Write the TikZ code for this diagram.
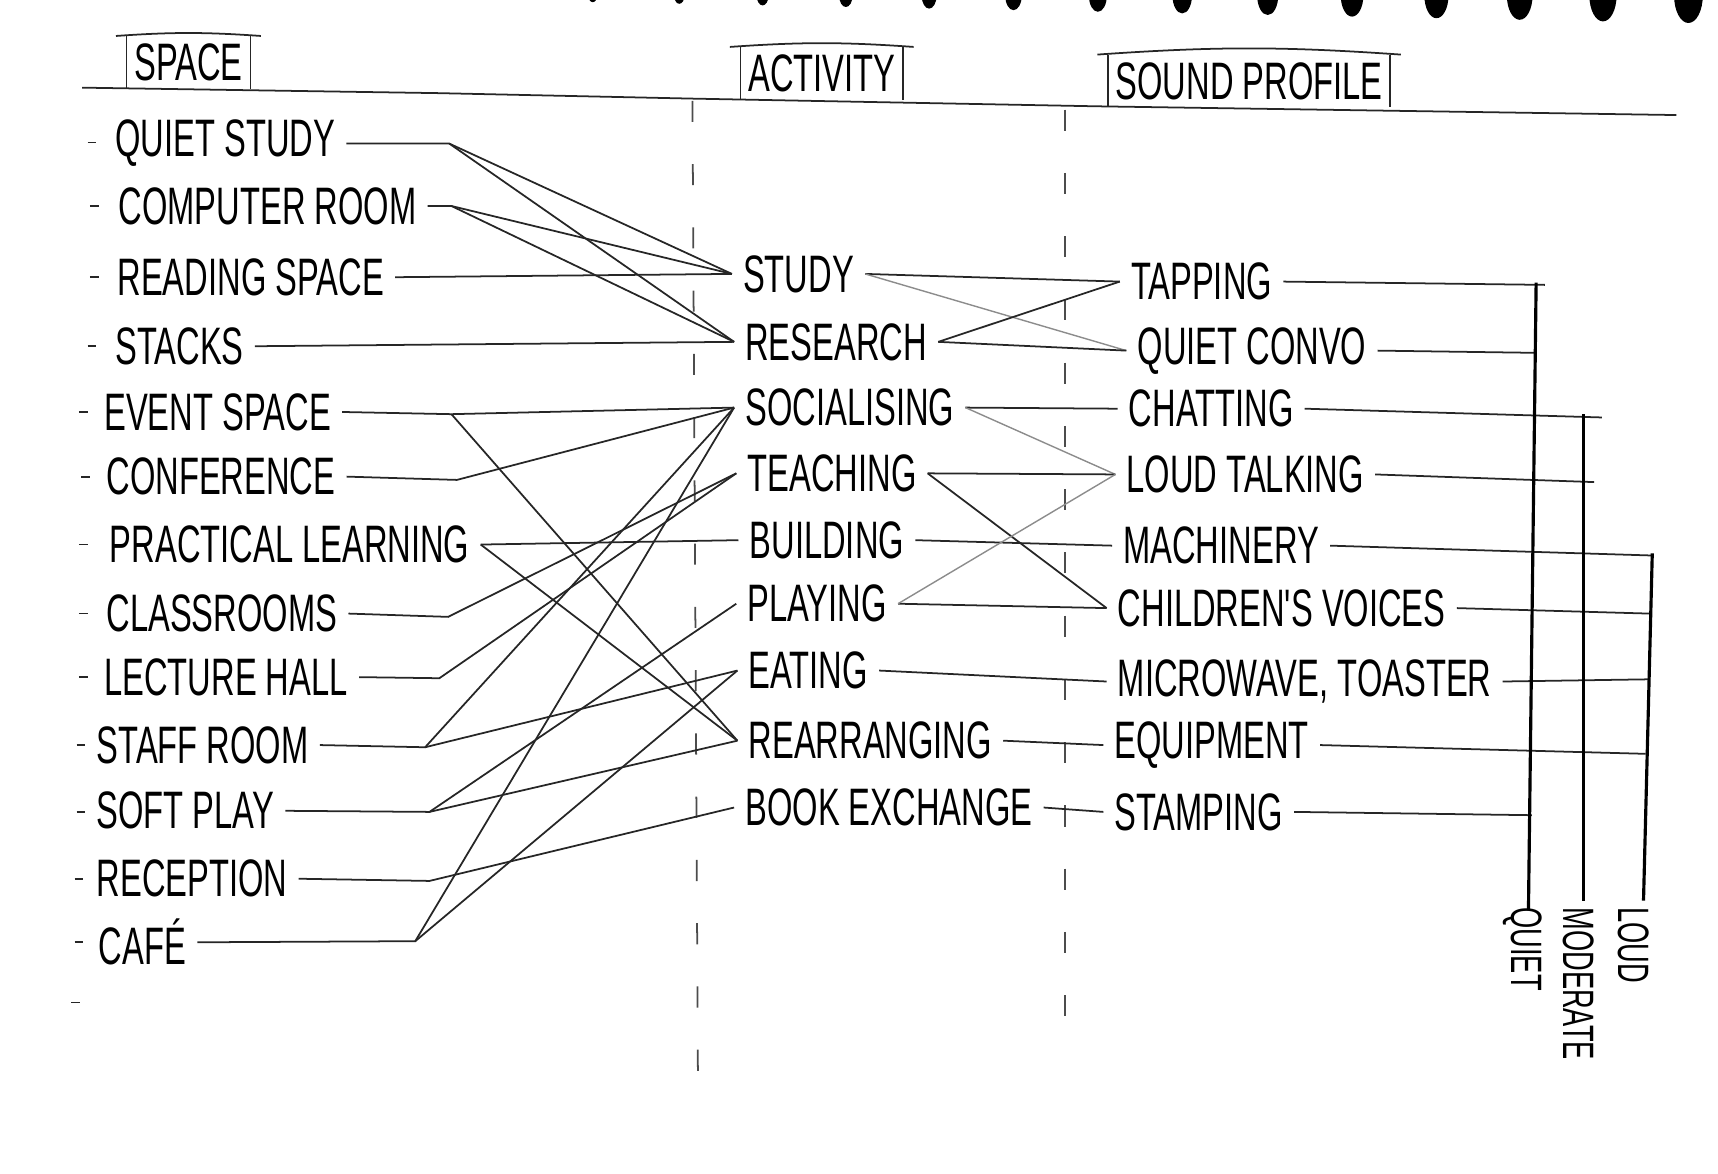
\documentclass[tikz,border=0pt]{standalone}
\usepackage{fontspec}
\newfontfamily\hand[FakeStretch=0.62]{Liberation Sans}
\begin{document}
\begin{tikzpicture}[x=0.10957mm,y=-0.10957mm,
  every node/.style={font=\hand\fontsize{15}{15}\selectfont, inner sep=3pt},
  space/.style={anchor=west},
  act/.style={anchor=west},
  snd/.style={anchor=west},
  head/.style={anchor=south, inner xsep=2pt, inner ysep=2pt},
  level/.style={anchor=west, rotate=-90, font=\hand\fontsize{12.5}{12.5}\selectfont},
  link/.style={black!85, line width=0.5pt},
  faint/.style={black!45, line width=0.4pt},
  bar/.style={black, line width=0.9pt},
  guide/.style={black!70, line width=0.5pt, dash pattern=on 6pt off 12pt}]
\useasboundingbox (0,0) rectangle (1568,1071);
\foreach \x [count=\i from 0] in {541,620,696,772,848,925,1002,1079,1157,1234,1311,1387,1463,1541}
  \fill (\x,-4) ellipse [x radius={4+0.7*\i}, y radius={6+1.46*\i}];
\draw[link] (75,80) -- (400,85) -- (632,90) -- (1000,97) -- (1530,105);
\draw[guide] (632,92) -- (637,985);
\draw[guide] (972,100) -- (972,940);
\node[head] (hsp) at (172,81) {SPACE};
\node[head] (hact) at (750,91) {ACTIVITY};
\node[head] (hsnd) at (1140,98) {SOUND PROFILE};
\foreach \h in {hsp,hact,hsnd} {
  \draw[link] ([xshift=-3pt]\h.north west) to[bend left=4] ([xshift=3pt]\h.north east);
  \draw[link] (\h.north west) -- (\h.south west);
  \draw[link] (\h.north east) -- (\h.south east);
}
\foreach \x/\y in {80/130,82/188,82/253,80/316,72/376,74/435,72/497,72/560,72/618,70/680,70/741,68/802,68/860,65/915}
  \draw[link] (\x,\y) -- ++(8,0);
\node[space] (sqs) at (95,131) {QUIET STUDY};
\node[space] (scr) at (98,188) {COMPUTER ROOM};
\node[space] (srs) at (97,253) {READING SPACE};
\node[space] (sst) at (95,316) {STACKS};
\node[space] (sev) at (85,376) {EVENT SPACE};
\node[space] (sco) at (87,435) {CONFERENCE};
\node[space] (spl) at (90,497) {PRACTICAL LEARNING};
\node[space] (scl) at (87,560) {CLASSROOMS};
\node[space] (slh) at (85,618) {LECTURE HALL};
\node[space] (ssr) at (78,680) {STAFF ROOM};
\node[space] (ssp) at (78,740) {SOFT PLAY};
\node[space] (sre) at (78,802) {RECEPTION};
\node[space] (sca) at (80,860) {CAFÉ};
\coordinate (jqs) at (410,131);
\coordinate (jcr) at (412,188);
\coordinate (jev) at (412,378);
\coordinate (jco) at (417,438);
\coordinate (jcl) at (409,563);
\coordinate (jlh) at (401,619);
\coordinate (jsr) at (388,682);
\coordinate (jsp) at (392,741);
\coordinate (jre) at (392,804);
\coordinate (jca) at (379,859);
\node[act] (astu) at (668,250) {STUDY};
\node[act] (ares) at (670,312) {RESEARCH};
\node[act] (asoc) at (670,372) {SOCIALISING};
\node[act] (atea) at (672,432) {TEACHING};
\node[act] (abui) at (674,493) {BUILDING};
\node[act] (apla) at (672,551) {PLAYING};
\node[act] (aeat) at (673,612) {EATING};
\node[act] (area) at (673,676) {REARRANGING};
\node[act] (abook) at (670,737) {BOOK EXCHANGE};
\node[snd] (ptap) at (1022,257) {TAPPING};
\node[snd] (pcon) at (1028,320) {QUIET CONVO};
\node[snd] (pcha) at (1020,373) {CHATTING};
\node[snd] (ploud) at (1018,433) {LOUD TALKING};
\node[snd] (pmac) at (1015,498) {MACHINERY};
\node[snd] (pchi) at (1010,555) {CHILDREN'S VOICES};
\node[snd] (pmic) at (1010,622) {MICROWAVE, TOASTER};
\node[snd] (pequ) at (1007,680) {EQUIPMENT};
\node[snd] (psta) at (1007,741) {STAMPING};
\draw[link] (sqs.east) -- (jqs) -- (astu.west);
\draw[link] (jqs) -- (ares.west);
\draw[link] (scr.east) -- (jcr) -- (astu.west);
\draw[link] (jcr) -- (ares.west);
\draw[link] (srs.east) -- (astu.west);
\draw[link] (sst.east) -- (ares.west);
\draw[link] (sev.east) -- (jev) -- (asoc.west);
\draw[link] (jev) -- (area.west);
\draw[link] (sco.east) -- (jco) -- (asoc.west);
\draw[link] (spl.east) -- (abui.west);
\draw[link] (spl.east) -- (area.west);
\draw[link] (scl.east) -- (jcl) -- (atea.west);
\draw[link] (slh.east) -- (jlh) -- (atea.west);
\draw[link] (ssr.east) -- (jsr) -- (asoc.west);
\draw[link] (jsr) -- (aeat.west);
\draw[link] (ssp.east) -- (jsp) -- (apla.west);
\draw[link] (jsp) -- (area.west);
\draw[link] (sre.east) -- (jre) -- (abook.west);
\draw[link] (sca.east) -- (jca) -- (asoc.west);
\draw[link] (jca) -- (aeat.west);
\draw[link] (astu.east) -- (ptap.west);
\draw[faint] (astu.east) -- (pcon.west);
\draw[link] (ares.east) -- (ptap.west);
\draw[link] (ares.east) -- (pcon.west);
\draw[link] (asoc.east) -- (pcha.west);
\draw[faint] (asoc.east) -- (ploud.west);
\draw[link] (atea.east) -- (ploud.west);
\draw[link] (atea.east) -- (pchi.west);
\draw[link] (abui.east) -- (pmac.west);
\draw[link] (apla.east) -- (pchi.west);
\draw[faint] (apla.east) -- (ploud.west);
\draw[link] (aeat.east) -- (pmic.west);
\draw[link] (area.east) -- (pequ.west);
\draw[link] (abook.east) -- (psta.west);
\coordinate (qtap) at (1410,260);
\coordinate (qcon) at (1400,322);
\coordinate (qsta) at (1398,744);
\coordinate (qtop) at (1402,258);
\coordinate (qbot) at (1395,830);
\coordinate (mcha) at (1462,381);
\coordinate (mloud) at (1455,440);
\coordinate (mtop) at (1445,378);
\coordinate (mbot) at (1445,822);
\coordinate (lmac) at (1508,507);
\coordinate (lchi) at (1505,560);
\coordinate (lmic) at (1504,620);
\coordinate (lequ) at (1502,688);
\coordinate (ltop) at (1508,505);
\coordinate (lbot) at (1500,822);
\draw[link] (ptap.east) -- (qtap);
\draw[link] (pcon.east) -- (qcon);
\draw[link] (psta.east) -- (qsta);
\draw[link] (pcha.east) -- (mcha);
\draw[link] (ploud.east) -- (mloud);
\draw[link] (pmac.east) -- (lmac);
\draw[link] (pchi.east) -- (lchi);
\draw[link] (pmic.east) -- (lmic);
\draw[link] (pequ.east) -- (lequ);
\draw[bar] (qtop) -- (qbot);
\draw[bar] (mtop) -- (mbot);
\draw[bar] (ltop) -- (lbot);
\node[level] (lq) at (1390,818) {QUIET};
\node[level] (lm) at (1441,818) {MODERATE};
\node[level] (ll) at (1491,818) {LOUD};
\end{tikzpicture}
\end{document}
